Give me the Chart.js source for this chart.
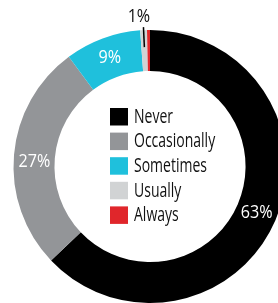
<!DOCTYPE html>
<html>
<head>
<meta charset="utf-8">
<script src="https://cdn.jsdelivr.net/npm/chart.js@4/dist/chart.umd.min.js"></script>
<style>
  html, body { margin: 0; padding: 0; background: #fff; overflow: hidden; width: 278px; height: 303px; }
  #wrap { position: absolute; left: 0; top: 0; width: 300px; height: 303px; }
</style>
</head>
<body>
<div id="wrap"><canvas id="donut" width="300" height="303"></canvas></div>
<script>
const categories = ['Never', 'Occasionally', 'Sometimes', 'Usually', 'Always'];
const shares = [63, 27, 9, 0.8, 0.35];
const shareLabels = ['63%', '27%', '9%', '1%', ''];
const colors = ['#000000', '#939598', '#1fc0dc', '#d1d3d4', '#e0262b'];

const FONT = "'Open Sans', sans-serif";

// squeeze text horizontally to look like a condensed face
function narrowText(ctx, txt, x, y, sx) {
  ctx.save();
  ctx.translate(x, y);
  ctx.scale(sx, 1);
  ctx.fillText(txt, 0, 0);
  ctx.restore();
}

// percentage labels on the ring, small slices get a leader line outside
const sliceLabels = {
  id: 'sliceLabels',
  afterDatasetsDraw(chart) {
    const ctx = chart.ctx;
    const arcs = chart.getDatasetMeta(0).data;
    ctx.save();
    ctx.font = '19px ' + FONT;
    ctx.textAlign = 'center';
    ctx.textBaseline = 'middle';
    arcs.forEach((arc, i) => {
      const txt = shareLabels[i];
      if (!txt) return;
      if (shares[i] >= 3) {
        const p = arc.tooltipPosition();
        ctx.fillStyle = '#fff';
        narrowText(ctx, txt, p.x, p.y + (i === 1 ? 5 : 0), 0.85);
      } else {
        const mid = (arc.startAngle + arc.endAngle) / 2;
        const c = Math.cos(mid), s = Math.sin(mid);
        ctx.strokeStyle = '#000';
        ctx.lineWidth = 1.5;
        ctx.beginPath();
        ctx.moveTo(arc.x + c * (arc.outerRadius + 3), arc.y + s * (arc.outerRadius + 3));
        ctx.lineTo(arc.x + c * (arc.outerRadius - 17), arc.y + s * (arc.outerRadius - 17));
        ctx.stroke();
        ctx.fillStyle = '#111';
        narrowText(ctx, txt, arc.x + c * (arc.outerRadius + 14) - 4, arc.y + s * (arc.outerRadius + 14), 0.85);
      }
    });
    ctx.restore();
  }
};

// legend drawn inside the hole
const centerLegend = {
  id: 'centerLegend',
  afterDraw(chart) {
    const ctx = chart.ctx;
    ctx.save();
    ctx.font = '20px ' + FONT;
    ctx.textBaseline = 'middle';
    ctx.textAlign = 'left';
    categories.forEach((name, i) => {
      const y = 108 + i * 24.6;
      ctx.fillStyle = colors[i];
      ctx.fillRect(110, y, 18, 17.5);
      ctx.fillStyle = '#111';
      narrowText(ctx, name, 134, y + 9, 0.7);
    });
    ctx.restore();
  }
};

new Chart(document.getElementById('donut'), {
  type: 'doughnut',
  data: {
    labels: categories,
    datasets: [{ data: shares, backgroundColor: colors, borderWidth: 0 }]
  },
  options: {
    responsive: false,
    animation: false,
    cutout: '70%',
    layout: { padding: { top: 30 } },
    plugins: { legend: { display: false }, tooltip: { enabled: false } }
  },
  plugins: [sliceLabels, centerLegend]
});
</script>
</body>
</html>
